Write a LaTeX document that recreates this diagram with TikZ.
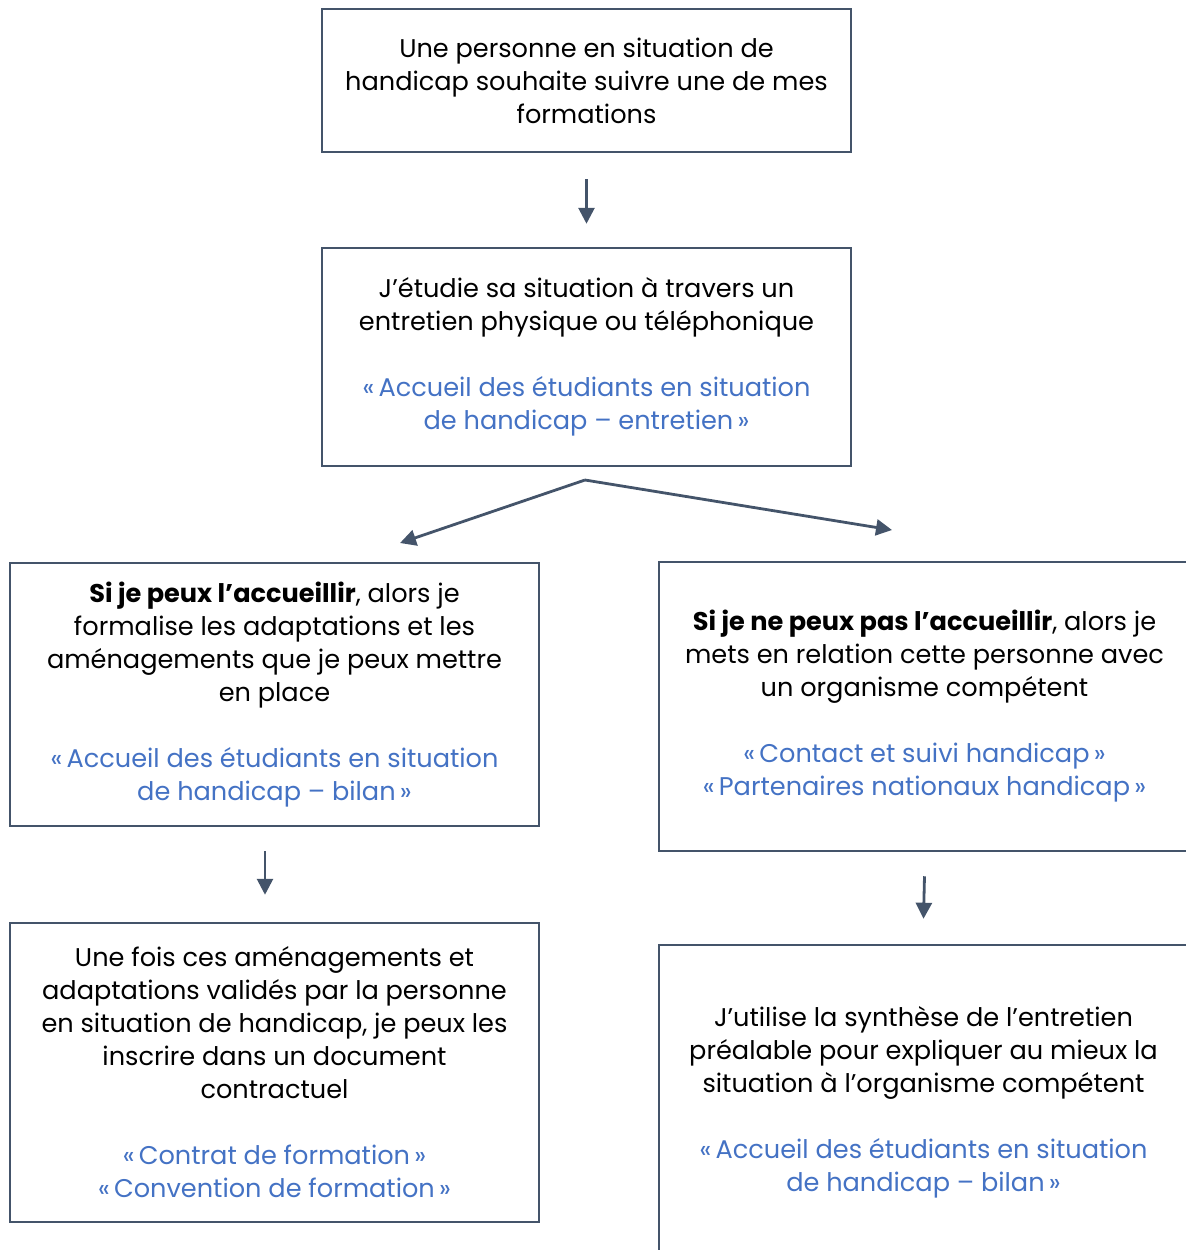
\documentclass[tikz,border=0pt]{standalone}
\usepackage{fontspec}
\setmainfont{Poppins}
\usepackage{tikz}
\usetikzlibrary{arrows.meta}
\definecolor{boxline}{HTML}{44546A}
\definecolor{linkblue}{HTML}{4472C4}
\tikzset{stepbox/.style={draw=boxline, line width=1.25pt, rectangle, align=center, inner sep=0pt, font=\fontsize{12.8}{16.5}\selectfont}}
\tikzset{flow/.style={draw=boxline, line width=1.4pt, -{Triangle[width=8pt,length=8pt]}}}
\newcommand{\doclink}{\color{linkblue}}

\begin{document}
\begin{tikzpicture}[x=0.5pt, y=-0.5pt]
    \useasboundingbox (0,0) rectangle (1186,1250);
    \node[stepbox, minimum width=264.5pt, minimum height=71.5pt] at (586.5,80.5) (demande)
        {Une personne en situation de\\handicap souhaite suivre une de mes\\formations};
    \node[stepbox, minimum width=264.5pt, minimum height=109pt] at (586.5,357) (entretien)
        {J’étudie sa situation à travers un\\entretien physique ou téléphonique\\[16.5pt]
         \doclink «\,Accueil des étudiants en situation\\\doclink de handicap – entretien\,»};
    \node[stepbox, minimum width=264.5pt, minimum height=131.5pt] at (274.5,694.5) (accueil)
        {\textbf{Si je peux l’accueillir}, alors je\\formalise les adaptations et les\\aménagements que je peux mettre\\en place\\[16.5pt]
         \doclink «\,Accueil des étudiants en situation\\\doclink de handicap – bilan\,»};
    \node[stepbox, minimum width=265.5pt, minimum height=144.5pt] at (924.5,706.5) (orientation)
        {\textbf{Si je ne peux pas l’accueillir}, alors je\\mets en relation cette personne avec\\un organisme compétent\\[16.5pt]
         \doclink «\,Contact et suivi handicap\,»\\\doclink «\,Partenaires nationaux handicap\,»};
    \node[stepbox, minimum width=264.5pt, minimum height=149.5pt] at (274.5,1072.5) (contrat)
        {Une fois ces aménagements et\\adaptations validés par la personne\\en situation de handicap, je peux les\\inscrire dans un document\\contractuel\\[16.5pt]
         \doclink «\,Contrat de formation\,»\\\doclink «\,Convention de formation\,»};
    \node[stepbox, minimum width=264.5pt, minimum height=157.5pt] at (923.5,1102.5) (synthese)
        {J’utilise la synthèse de l’entretien\\préalable pour expliquer au mieux la\\situation à l’organisme compétent\\[16.5pt]
         \doclink «\,Accueil des étudiants en situation\\\doclink de handicap – bilan\,»};
    \coordinate (split) at (585,480);
    \coordinate (lefttip) at (400,543);
    \coordinate (righttip) at (892,530);
    \draw[flow] ([yshift=-13pt]demande.south) -- ([yshift=11.5pt]entretien.north);
    \draw[flow] (split) -- (lefttip);
    \draw[flow] (split) -- (righttip);
    \draw[flow] ([xshift=-4.75pt,yshift=-12pt]accueil.south) -- ([xshift=-4.75pt,yshift=13.5pt]contrat.north);
    \draw[flow] ([yshift=-12pt]orientation.south) -- ([yshift=12.5pt]synthese.north);
\end{tikzpicture}
\end{document}
